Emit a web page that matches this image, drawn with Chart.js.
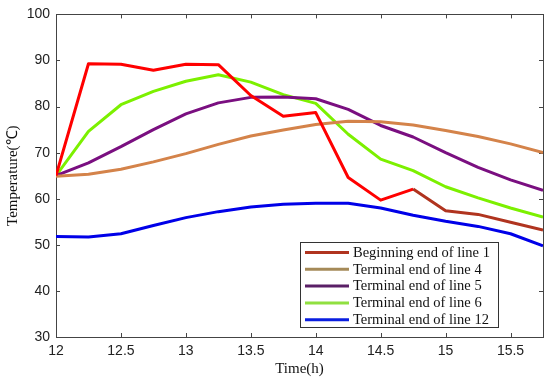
<!DOCTYPE html>
<html>
<head>
<meta charset="utf-8">
<script src="https://cdn.jsdelivr.net/npm/chart.js@4/dist/chart.umd.min.js"></script>
<style>
html,body{margin:0;padding:0;background:#fff;}
#wrap{width:550px;height:380px;position:relative;}
</style>
</head>
<body>
<div id="wrap"><canvas id="c" width="550" height="380"></canvas></div>
<script>
const times = [12, 12.25, 12.5, 12.75, 13, 13.25, 13.5, 13.75, 14, 14.25, 14.5, 14.75, 15, 15.25, 15.5, 15.75];
const line1Begin = [65.0, 89.3, 89.2, 87.9, 89.2, 89.1, 82.4, 77.9, 78.7, 64.6, 59.7, 62.1, 57.4, 56.6, 54.9, 53.2];
const line4End  = [64.9, 65.3, 66.4, 68.0, 69.8, 71.8, 73.6, 74.9, 76.1, 76.8, 76.7, 76.0, 74.8, 73.5, 71.9, 70.0];
const line5End  = [65.0, 67.8, 71.3, 75.0, 78.4, 80.8, 82.0, 82.1, 81.7, 79.4, 75.9, 73.4, 70.0, 66.8, 64.1, 61.8];
const line6End  = [65.0, 74.6, 80.4, 83.3, 85.5, 86.9, 85.3, 82.6, 80.7, 74.0, 68.6, 66.1, 62.6, 60.2, 58.0, 56.0];
const line12End = [51.8, 51.7, 52.4, 54.2, 55.9, 57.2, 58.2, 58.8, 59.0, 59.0, 58.0, 56.4, 55.1, 54.0, 52.4, 49.8];
const seriesNames = ['Beginning end of line 1', 'Terminal end of line 4', 'Terminal end of line 5', 'Terminal end of line 6', 'Terminal end of line 12'];
const xTicks = [12, 12.5, 13, 13.5, 14, 14.5, 15, 15.5];
const yTicks = [30, 40, 50, 60, 70, 80, 90, 100];

const toPts = arr => arr.map((v, i) => ({x: times[i], y: v}));

const frameColor = '#444';

const framePlugin = {
  id: 'frame',
  beforeDatasetsDraw(chart) {
    const {ctx, chartArea: a, scales} = chart;
    ctx.save();
    ctx.strokeStyle = frameColor;
    ctx.lineWidth = 1;
    const L = 4;
    ctx.beginPath();
    xTicks.forEach(v => {
      const px = Math.round(scales.x.getPixelForValue(v)) + 0.5;
      ctx.moveTo(px, a.bottom); ctx.lineTo(px, a.bottom - L);
      ctx.moveTo(px, a.top); ctx.lineTo(px, a.top + L);
    });
    yTicks.forEach(v => {
      const py = Math.round(scales.y.getPixelForValue(v)) + 0.5;
      ctx.moveTo(a.left, py); ctx.lineTo(a.left + L, py);
      ctx.moveTo(a.right, py); ctx.lineTo(a.right - L, py);
    });
    ctx.stroke();
    ctx.strokeRect(Math.round(a.left) + 0.5, Math.round(a.top) + 0.5, Math.round(a.right - a.left), Math.round(a.bottom - a.top));
    ctx.restore();
  }
};

const legendPlugin = {
  id: 'boxLegend',
  afterDraw(chart) {
    const {ctx} = chart;
    const bx = 300, by = 242, bw = 198, bh = 85;
    ctx.save();
    ctx.fillStyle = '#fff';
    ctx.fillRect(bx, by, bw, bh);
    ctx.strokeStyle = '#333';
    ctx.lineWidth = 1;
    ctx.strokeRect(bx + 0.5, by + 0.5, bw, bh);
    ctx.font = '14.5px "Liberation Serif", "Times New Roman", serif';
    ctx.textBaseline = 'middle';
    ctx.textAlign = 'left';
    chart.data.datasets.forEach((ds, i) => {
      const cy = by + 10.5 + i * 16.8;
      ctx.strokeStyle = ds.legendColor || ds.borderColor;
      ctx.lineWidth = 3;
      ctx.beginPath();
      ctx.moveTo(bx + 5, cy); ctx.lineTo(bx + 49, cy);
      ctx.stroke();
      ctx.fillStyle = '#111';
      ctx.fillText(ds.label, bx + 53, cy + 0.5);
    });
    ctx.restore();
  }
};

new Chart(document.getElementById('c'), {
  type: 'line',
  data: {
    datasets: [
      {label: seriesNames[0], data: toPts(line1Begin), borderColor: '#b0341f', legendColor: '#b0341f',
       segment: {borderColor: c => (c.p0.parsed.x >= 14.75 ? '#b0341f' : '#ff0000')}},
      {label: seriesNames[1], data: toPts(line4End), borderColor: '#d4834a', legendColor: '#a58a58'},
      {label: seriesNames[2], data: toPts(line5End), borderColor: '#7a0f80', legendColor: '#5a1f66'},
      {label: seriesNames[3], data: toPts(line6End), borderColor: '#7cf000', legendColor: '#90e040'},
      {label: seriesNames[4], data: toPts(line12End), borderColor: '#0000e8', legendColor: '#0a1ee0'}
    ]
  },
  options: {
    responsive: false,
    animation: false,
    parsing: false,
    layout: {padding: {left: 0, right: 7, top: 13, bottom: 0}},
    elements: {
      line: {borderWidth: 3, tension: 0, fill: false, borderJoinStyle: 'round', borderCapStyle: 'butt'},
      point: {radius: 0, hoverRadius: 0}
    },
    plugins: {legend: {display: false}, tooltip: {enabled: false}},
    scales: {
      x: {
        type: 'linear', min: 12, max: 15.75,
        afterBuildTicks: s => { s.ticks = xTicks.map(v => ({value: v})); },
        afterFit: s => { s.height = 43; },
        grid: {display: false, drawTicks: false},
        border: {display: false},
        ticks: {color: '#222', font: {family: '"Liberation Sans", Arial, sans-serif', size: 14}, padding: 6, maxRotation: 0, autoSkip: false,
                callback: v => String(v)},
        title: {display: true, text: 'Time(h)', color: '#111', font: {family: '"Liberation Serif", "Times New Roman", serif', size: 15}, padding: {top: 0, bottom: 2}}
      },
      y: {
        type: 'linear', min: 30, max: 100,
        afterBuildTicks: s => { s.ticks = yTicks.map(v => ({value: v})); },
        afterFit: s => { s.width = 56; },
        grid: {display: false, drawTicks: false},
        border: {display: false},
        ticks: {color: '#222', font: {family: '"Liberation Sans", Arial, sans-serif', size: 14}, padding: 6, autoSkip: false,
                callback: v => String(v)},
        title: {display: true, text: 'Temperature(℃)', color: '#111', font: {family: '"Liberation Serif", "Times New Roman", serif', size: 15}, padding: {top: 4, bottom: 0}}
      }
    }
  },
  plugins: [framePlugin, legendPlugin]
});
</script>
</body>
</html>
